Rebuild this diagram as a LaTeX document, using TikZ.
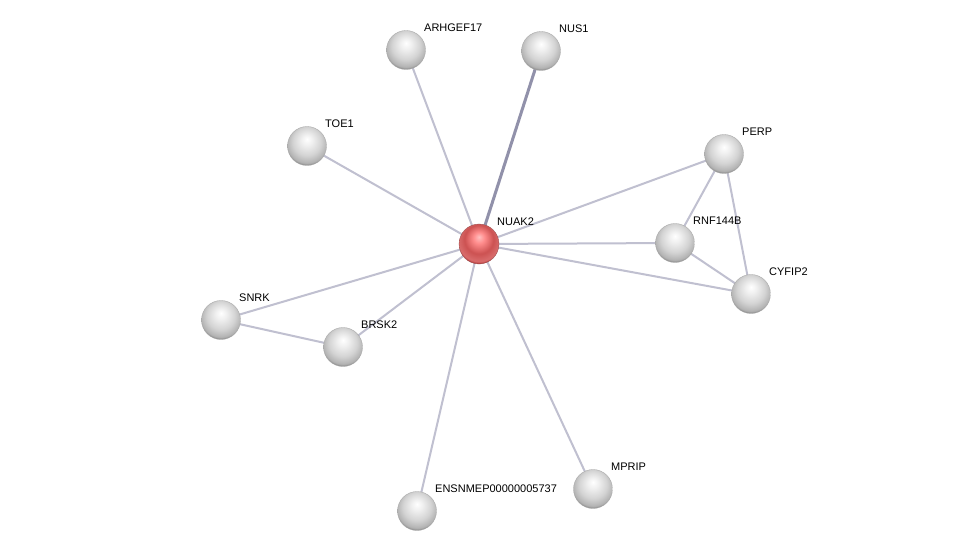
\documentclass[tikz,border=0pt]{standalone}
\usepackage{fontspec}
\setmainfont{Liberation Sans}
\pgfdeclareradialshading{graysphere}{\pgfpoint{0bp}{9bp}}{%
  color(0bp)=(white);
  color(7bp)=(black!6);
  color(18bp)=(black!17);
  color(26bp)=(black!30);
  color(31bp)=(black!60);
  color(50bp)=(black!70)}
\pgfdeclareradialshading{redsphere}{\pgfpoint{0bp}{9bp}}{%
  color(0bp)=(red!25!white);
  color(7bp)=(red!45!white);
  color(18bp)=(red!60!white!80!black);
  color(26bp)=(red!50!white!85!black);
  color(31bp)=(red!55!black);
  color(50bp)=(red!40!black)}
\begin{document}
\begin{tikzpicture}[x=1pt,y=-1pt,
  prot/.style={circle,minimum size=39pt,inner sep=0pt,shading=graysphere,draw=black!35,line width=0.3pt},
  hub/.style={circle,minimum size=40pt,inner sep=0pt,shading=redsphere,draw=red!40!black!70,line width=0.3pt},
  lbl/.style={anchor=west,inner sep=0pt,font=\fontsize{11}{13}\selectfont},
  edge/.style={draw={rgb,255:red,192;green,192;blue,208},line width=2pt},
  strongedge/.style={draw={rgb,255:red,145;green,145;blue,170},line width=3pt}]
\useasboundingbox (0,0) rectangle (976,556);
\fill[white] (0,0) rectangle (976,556);
\coordinate (cNUAK) at (479,244);
\coordinate (cARH) at (406,50);
\coordinate (cNUS) at (541,51);
\coordinate (cTOE) at (307,146);
\coordinate (cPERP) at (724,154);
\coordinate (cRNF) at (675,243);
\coordinate (cCYF) at (751,294);
\coordinate (cSNRK) at (221,320);
\coordinate (cBRSK) at (343,347);
\coordinate (cENS) at (417,511);
\coordinate (cMPR) at (593,489);
% edges
\draw[edge] (cNUAK) -- (cARH);
\draw[strongedge] (cNUAK) -- (cNUS);
\draw[edge] (cNUAK) -- (cTOE);
\draw[edge] (cNUAK) -- (cPERP);
\draw[edge] (cNUAK) -- (cRNF);
\draw[edge] (cNUAK) -- (cCYF);
\draw[edge] (cNUAK) -- (cSNRK);
\draw[edge] (cNUAK) -- (cBRSK);
\draw[edge] (cNUAK) -- (cENS);
\draw[edge] (cNUAK) -- (cMPR);
\draw[edge] (cPERP) -- (cRNF);
\draw[edge] (cPERP) -- (cCYF);
\draw[edge] (cRNF) -- (cCYF);
\draw[edge] (cSNRK) -- (cBRSK);
% nodes
\node[hub] (NUAK) at (cNUAK) {};
\node[prot] (ARH) at (cARH) {};
\node[prot] (NUS) at (cNUS) {};
\node[prot] (TOE) at (cTOE) {};
\node[prot] (PERP) at (cPERP) {};
\node[prot] (RNF) at (cRNF) {};
\node[prot] (CYF) at (cCYF) {};
\node[prot] (SNRK) at (cSNRK) {};
\node[prot] (BRSK) at (cBRSK) {};
\node[prot] (ENS) at (cENS) {};
\node[prot] (MPR) at (cMPR) {};
% labels
\node[lbl] (lNUAK) at (497,222) {NUAK2};
\node[lbl] (lARH) at (424,28) {ARHGEF17};
\node[lbl] (lNUS) at (559,29) {NUS1};
\node[lbl] (lTOE) at (325,124) {TOE1};
\node[lbl] (lPERP) at (742,132) {PERP};
\node[lbl] (lRNF) at (693,221) {RNF144B};
\node[lbl] (lCYF) at (769,272) {CYFIP2};
\node[lbl] (lSNRK) at (239,298) {SNRK};
\node[lbl] (lBRSK) at (361,325) {BRSK2};
\node[lbl] (lENS) at (435,489) {ENSNMEP00000005737};
\node[lbl] (lMPR) at (611,467) {MPRIP};
\end{tikzpicture}
\end{document}
